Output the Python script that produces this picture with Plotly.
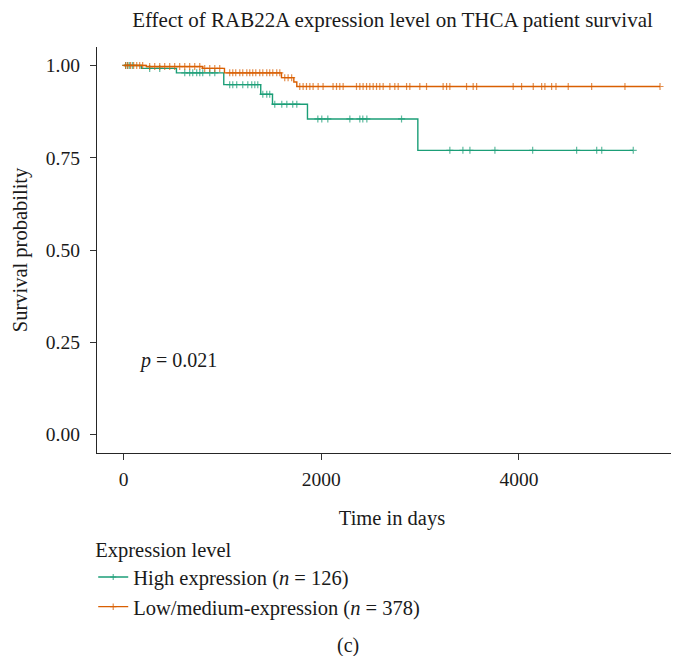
import numpy as np
import plotly.graph_objects as go

# ---- data ----
groups = ["High expression (<i>n</i> = 126)", "Low/medium-expression (<i>n</i> = 378)"]
colors = ["#1B9E77", "#D95F02"]

green_event_days = [0, 179, 534, 1013, 1387, 1506, 1860, 2977]
green_event_surv = [1.0, 0.992, 0.980, 0.948, 0.922, 0.895, 0.855, 0.770]
green_censor_days = [20, 41, 61, 91, 263, 365, 618, 668, 699, 739, 770, 800, 871, 922,
                     1073, 1104, 1144, 1205, 1256, 1296, 1327, 1357, 1408, 1448, 1478,
                     1529, 1600, 1651, 1711, 1752, 1965, 2005, 2066, 2289, 2390, 2420,
                     2461, 2812, 3301, 3433, 3504, 3757, 4139, 4584, 4787, 4838, 5157]

orange_event_days = [0, 229, 800, 1020, 1597, 1722, 1752]
orange_event_surv = [1.0, 0.997, 0.992, 0.980, 0.967, 0.955, 0.943]
orange_censor_days = [20, 41, 71, 101, 132, 162, 192, 263, 314, 365, 415, 466, 516, 567,
                      618, 668, 719, 770, 820, 871, 922, 972, 1073, 1104, 1134, 1175,
                      1205, 1246, 1276, 1306, 1337, 1377, 1408, 1448, 1478, 1509, 1549,
                      1580, 1630, 1664, 1700, 1782, 1816, 1850, 1884, 1917, 1968, 2018,
                      2119, 2154, 2187, 2221, 2356, 2390, 2423, 2458, 2491, 2525, 2559,
                      2592, 2626, 2694, 2744, 2778, 2863, 2896, 2997, 3065, 3233, 3268,
                      3301, 3470, 3537, 3572, 3942, 4027, 4145, 4230, 4263, 4331, 4375,
                      4499, 4736, 5073, 5428]

y_ticks = [0, 0.25, 0.5, 0.75, 1.0]
x_ticks = [0, 2000, 4000]
p_text = "<i>p</i> = 0.021"

FONT = "Liberation Serif"

fig = go.Figure()


def add_curve(name, color, ev_t, ev_s, cen_t):
    ev_t = np.asarray(ev_t, float)
    ev_s = np.asarray(ev_s, float)
    cen_t = np.asarray(cen_t, float)
    idx = np.searchsorted(ev_t, cen_t, side="right") - 1
    cen_s = ev_s[idx]
    xs = np.concatenate([ev_t, cen_t])
    ys = np.concatenate([ev_s, cen_s])
    sz = np.concatenate([np.zeros(len(ev_t)), np.full(len(cen_t), 5.0)])
    order = np.argsort(xs, kind="stable")
    fig.add_trace(go.Scatter(
        x=xs[order], y=ys[order], name=name,
        mode="lines+markers",
        line=dict(color=color, width=1.4, shape="hv"),
        marker=dict(symbol="cross-thin", size=sz[order].tolist(),
                    color=color, line=dict(color=color, width=1.2)),
    ))


add_curve(groups[0], colors[0], green_event_days, green_event_surv, green_censor_days)
add_curve(groups[1], colors[1], orange_event_days, orange_event_surv, orange_censor_days)

fig.add_annotation(x=130, y=0.2, xref="x", yref="y", text=p_text, showarrow=False,
                   xanchor="left", yanchor="middle",
                   font=dict(family=FONT, size=20, color="#1a1a1a"))
fig.add_annotation(x=0.426, y=-0.473, xref="paper", yref="paper", text="(c)",
                   showarrow=False, xanchor="center", yanchor="middle",
                   font=dict(family=FONT, size=20, color="#1a1a1a"))

axis_common = dict(showline=True, linecolor="#262626", linewidth=1.3, ticks="outside",
                   ticklen=6, tickwidth=1.2, tickcolor="#333333", showgrid=False,
                   zeroline=False, tickfont=dict(family=FONT, size=19.5, color="#1a1a1a"),
                   mirror=False)

fig.update_layout(
    width=679, height=656,
    margin=dict(l=89, r=0, t=39, b=211),
    paper_bgcolor="white", plot_bgcolor="white",
    font=dict(family=FONT, color="#1a1a1a"),
    title=dict(text="Effect of RAB22A expression level on THCA patient survival",
               font=dict(family=FONT, size=21, color="#1a1a1a"),
               x=384.5 / 679, xref="container", xanchor="center",
               y=1 - 12 / 656, yref="container", yanchor="middle"),
    xaxis=dict(range=[-270, 5701], tickvals=x_ticks, ticktext=[str(v) for v in x_ticks],
               title=dict(text="Time in days", font=dict(family=FONT, size=20.5), standoff=22),
               ticklabelstandoff=2, **axis_common),
    yaxis=dict(range=[-0.05, 1.05], tickvals=y_ticks, ticktext=[f"{v:.2f}" for v in y_ticks],
               title=dict(text="Survival probability", font=dict(family=FONT, size=20.5), standoff=12),
               ticklabelstandoff=6, **axis_common),
    legend=dict(x=-0.0064, xanchor="left", y=-0.191, yanchor="top", yref="paper",
                title=dict(text="Expression level", font=dict(family=FONT, size=20.5)),
                font=dict(family=FONT, size=20.5, color="#1a1a1a"),
                bgcolor="rgba(0,0,0,0)", tracegroupgap=0, itemsizing="trace"),
    showlegend=True,
)

fig.write_html("out.html")
